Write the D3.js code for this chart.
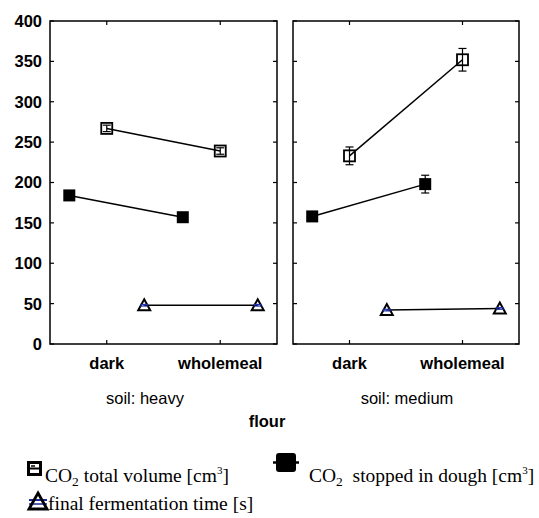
<!DOCTYPE html>
<html><head><meta charset="utf-8">
<script src="https://cdn.jsdelivr.net/npm/d3@7"></script>
<style>body{margin:0;background:#fff}</style>
</head><body>
<svg id="c" width="539" height="518"></svg>
<script>
const categories = ["dark", "wholemeal"];
const panels = ["soil: heavy", "soil: medium"];
const yTicks = [0, 50, 100, 150, 200, 250, 300, 350, 400];
const totalVol = [[267, 239], [233, 352]];
const totalErr = [[4, 4], [11, 14]];
const stopped = [[184, 157], [158, 198]];
const stoppedErr = [[3, 3], [3, 11]];
const fermTime = [[48, 48], [42, 44]];
const fermErr = [[1, 1], [1, 1]];

const svg = d3.select("#c");
const sans = "'Liberation Sans', Arial, sans-serif";
const serif = "'Liberation Serif', 'Times New Roman', serif";
const panelX = [[50, 277], [293, 519]];
const y = d3.scaleLinear().domain([0, 400]).range([344, 21]);

const series = [
  {vals: stopped, err: stoppedErr, off: -0.33, type: "fsq"},
  {vals: totalVol, err: totalErr, off: 0, type: "hsq"},
  {vals: fermTime, err: fermErr, off: 0.33, type: "tri"}
];

panels.forEach((p, pi) => {
  const x = d3.scalePoint().domain(categories).range(panelX[pi]).padding(0.5);
  const step = x.step();
  const g = svg.append("g");
  const [x0, x1] = panelX[pi];
  yTicks.forEach(t => {
    g.append("line").attr("x1", x0).attr("x2", x0 + 4).attr("y1", y(t)).attr("y2", y(t)).attr("stroke", "#000").attr("stroke-width", 1.2);
    g.append("line").attr("x1", x1).attr("x2", x1 - 4).attr("y1", y(t)).attr("y2", y(t)).attr("stroke", "#000").attr("stroke-width", 1.2);
  });
  categories.forEach(c => {
    g.append("line").attr("x1", x(c)).attr("x2", x(c)).attr("y1", y(400)).attr("y2", y(400) + 4).attr("stroke", "#000").attr("stroke-width", 1.2);
    g.append("line").attr("x1", x(c)).attr("x2", x(c)).attr("y1", y(0)).attr("y2", y(0) - 4).attr("stroke", "#000").attr("stroke-width", 1.2);
    g.append("text").attr("x", x(c)).attr("y", 369).attr("text-anchor", "middle")
      .attr("font-family", sans).attr("font-weight", "bold").attr("font-size", 16.5).text(c);
  });
  g.append("rect").attr("x", x0).attr("y", y(400)).attr("width", x1 - x0).attr("height", y(0) - y(400))
    .attr("fill", "none").attr("stroke", "#000").attr("stroke-width", 1.5);

  if (pi === 0) {
    yTicks.forEach(t => {
      g.append("text").attr("x", 42).attr("y", y(t)).attr("dy", "0.36em").attr("text-anchor", "end")
        .attr("font-family", sans).attr("font-weight", "bold").attr("font-size", 16.5).text(t);
    });
  }

  series.forEach(s => {
    const pts = categories.map((c, ci) => ({x: x(c) + s.off * step, v: s.vals[pi][ci], e: s.err[pi][ci]}));
    g.append("path").attr("d", d3.line().x(d => d.x).y(d => y(d.v))(pts))
      .attr("fill", "none").attr("stroke", "#000").attr("stroke-width", 1.5);
    pts.forEach(d => {
      const cx = d.x, cy = y(d.v);
      if (s.type === "fsq") {
        g.append("rect").attr("x", cx - 6).attr("y", cy - 6).attr("width", 12).attr("height", 12).attr("fill", "#000");
      } else if (s.type === "hsq") {
        g.append("rect").attr("x", cx - 5.5).attr("y", cy - 5.5).attr("width", 11).attr("height", 11)
          .attr("fill", "none").attr("stroke", "#000").attr("stroke-width", 1.8);
      } else {
        g.append("path").attr("d", `M${cx},${cy - 6}L${cx + 6},${cy + 5}L${cx - 6},${cy + 5}Z`)
          .attr("fill", "none").attr("stroke", "#000").attr("stroke-width", 2).attr("stroke-linejoin", "miter");
      }
      const col = s.type === "tri" ? "#2233aa" : "#000";
      const yt = y(d.v + d.e), yb = y(d.v - d.e);
      g.append("line").attr("x1", cx).attr("x2", cx).attr("y1", yt).attr("y2", yb).attr("stroke", col).attr("stroke-width", 1.2);
      [yt, yb].forEach(yy => g.append("line").attr("x1", cx - 4).attr("x2", cx + 4).attr("y1", yy).attr("y2", yy).attr("stroke", col).attr("stroke-width", 1.2));
    });
  });
});

svg.append("text").attr("x", 145).attr("y", 404).attr("text-anchor", "middle").attr("font-family", sans).attr("font-size", 16.5).text(panels[0]);
svg.append("text").attr("x", 407).attr("y", 404).attr("text-anchor", "middle").attr("font-family", sans).attr("font-size", 16.5).text(panels[1]);
svg.append("text").attr("x", 267).attr("y", 427).attr("text-anchor", "middle").attr("font-family", sans).attr("font-weight", "bold").attr("font-size", 16.5).text("flour");

// legend
const lg = svg.append("g");
lg.append("rect").attr("x", 28.5).attr("y", 462.5).attr("width", 12).attr("height", 12).attr("fill", "none").attr("stroke", "#000").attr("stroke-width", 3);
lg.append("line").attr("x1", 29).attr("x2", 40).attr("y1", 468.5).attr("y2", 468.5).attr("stroke", "#000").attr("stroke-width", 2);
lg.append("line").attr("x1", 31).attr("x2", 35).attr("y1", 466).attr("y2", 466).attr("stroke", "#000").attr("stroke-width", 1.5);

lg.append("line").attr("x1", 273).attr("x2", 299).attr("y1", 462.5).attr("y2", 462.5).attr("stroke", "#000").attr("stroke-width", 2.5);
lg.append("rect").attr("x", 276).attr("y", 453).attr("width", 20).attr("height", 19).attr("rx", 3).attr("fill", "#000");

lg.append("line").attr("x1", 29).attr("x2", 47).attr("y1", 500).attr("y2", 500).attr("stroke", "#1a2a9a").attr("stroke-width", 2);
lg.append("line").attr("x1", 29).attr("x2", 47).attr("y1", 504).attr("y2", 504).attr("stroke", "#1a2a9a").attr("stroke-width", 1.5);
lg.append("path").attr("d", "M38,493L47,509L29,509Z").attr("fill", "none").attr("stroke", "#000").attr("stroke-width", 2.8);

function legText(xp, yp, parts) {
  const t = lg.append("text").attr("x", xp).attr("y", yp).attr("font-family", serif).attr("font-size", 19.5).attr("xml:space", "preserve");
  parts.forEach(p => {
    const ts = t.append("tspan").text(p.t);
    if (p.sub) ts.attr("font-size", 13.5).attr("dy", 4);
    if (p.sup) ts.attr("font-size", 11).attr("dy", -8);
    if (p.back) ts.attr("dy", p.back);
  });
}
legText(45, 482, [{t: "CO"}, {t: "2", sub: 1}, {t: " total volume [cm", back: -4}, {t: "3", sup: 1}, {t: "]", back: 8}]);
legText(309, 482, [{t: "CO"}, {t: "2", sub: 1}, {t: "  stopped in dough [cm", back: -4}, {t: "3", sup: 1}, {t: "]", back: 8}]);
legText(48, 510, [{t: "final fermentation time [s]"}]);
</script>
</body></html>
